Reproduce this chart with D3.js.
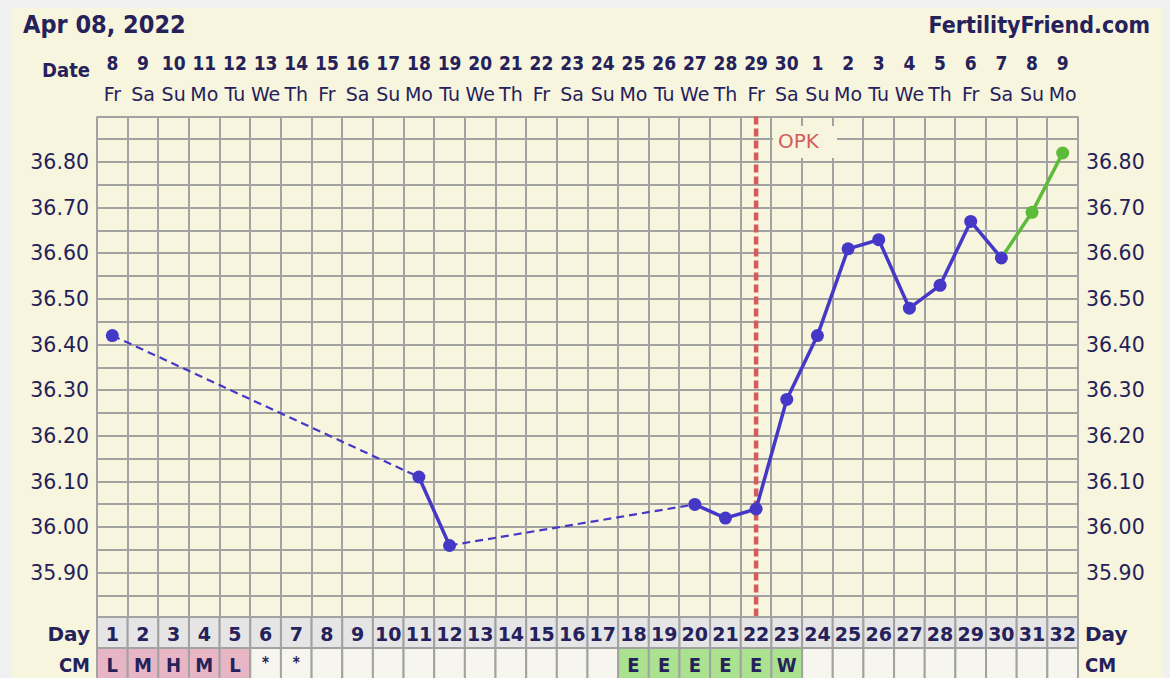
<!DOCTYPE html>
<html>
<head>
<meta charset="utf-8">
<script src="https://cdn.jsdelivr.net/npm/d3@7"></script>
<style>
  body { margin: 0; background: #f0f0f0; }
  svg { display: block; }
  text { font-family: "DejaVu Sans", Verdana, sans-serif; fill: #25215a; }
  .bold { font-weight: bold; }
  .narrow { font-family: "DejaVu Sans Condensed", "Open Sans", sans-serif; font-weight: bold; }
</style>
</head>
<body>
<svg width="1170" height="678"></svg>
<script>
// calendar dates and weekdays, one per cycle day
var dates = [8, 9, 10, 11, 12, 13, 14, 15, 16, 17, 18, 19, 20, 21, 22, 23, 24, 25, 26, 27, 28, 29, 30,
             1, 2, 3, 4, 5, 6, 7, 8, 9];
var weekdays = ["Fr","Sa","Su","Mo","Tu","We","Th","Fr","Sa","Su","Mo","Tu","We","Th","Fr","Sa",
                "Su","Mo","Tu","We","Th","Fr","Sa","Su","Mo","Tu","We","Th","Fr","Sa","Su","Mo"];
var cycleDays = [1, 2, 3, 4, 5, 6, 7, 8, 9, 10, 11, 12, 13, 14, 15, 16, 17, 18, 19, 20, 21, 22, 23, 24,
                 25, 26, 27, 28, 29, 30, 31, 32];

// temperature readings (days without a reading are skipped)
var tempDays   = [1, 11, 12, 20, 21, 22, 23, 24, 25, 26, 27, 28, 29, 30, 31, 32];
var tempValues = [36.42, 36.11, 35.96, 36.05, 36.02, 36.04, 36.28, 36.42, 36.61, 36.63, 36.48, 36.53,
                  36.67, 36.59, 36.69, 36.82];
var tempKind   = ["b","b","b","b","b","b","b","b","b","b","b","b","b","b","g","g"];

var yLabels = [36.8, 36.7, 36.6, 36.5, 36.4, 36.3, 36.2, 36.1, 36.0, 35.9];
var yDomain = [35.8, 36.9];

// CM row
var cmCodes = ["L","M","H","M","L","*","*","","","","","","","","","","","E","E","E","E","E","W",
               "","","","","","","","",""];
var cmKinds = {"L": "flow", "M": "flow", "H": "flow", "E": "fertile", "W": "fertile"};

var opkDay = 22;

const color = {
  "text": "#25215a",
  "grid": "#a2a2a2",
  "panel": "#f7f5de",
  "blue": "#4538c6",
  "green": "#5cbb38",
  "opk": "#d35c5c",
  "dayCell": "#e5e5e5",
  "flow": "#e8b5c5",
  "fertile": "#aae28f",
  "empty": "#f6f6ef"
};

var svg = d3.select("svg");

var plotLeft = 97, plotRight = 1078, plotTop = 116.5, plotBottom = 618.5;

var x = d3.scaleBand()
  .domain(cycleDays)
  .range([plotLeft, plotRight]);
var cx = d => x(d) + x.bandwidth() / 2;

var y = d3.scaleLinear()
  .domain(yDomain)
  .range([plotBottom, plotTop]);

// panel
svg.append("rect")
  .attr("x", 12).attr("y", 8)
  .attr("width", 1151).attr("height", 690)
  .attr("fill", color.panel);

// header
svg.append("text")
  .attr("class", "narrow")
  .attr("x", 23).attr("y", 33)
  .style("font-size", "25px")
  .text("Apr 08, 2022");
svg.append("text")
  .attr("class", "narrow")
  .attr("x", 1150).attr("y", 33)
  .attr("text-anchor", "end")
  .style("font-size", "23px")
  .text("FertilityFriend.com");

// date rows
svg.append("text")
  .attr("class", "narrow")
  .attr("x", 90).attr("y", 77)
  .attr("text-anchor", "end")
  .style("font-size", "20px")
  .text("Date");

svg.append("g").selectAll("text")
  .data(cycleDays)
  .join("text")
  .attr("class", "narrow")
  .attr("x", d => cx(d))
  .attr("y", 70)
  .attr("text-anchor", "middle")
  .style("font-size", "19px")
  .text((d, i) => dates[i]);

svg.append("g").selectAll("text")
  .data(cycleDays)
  .join("text")
  .attr("x", d => cx(d))
  .attr("y", 101)
  .attr("text-anchor", "middle")
  .style("font-size", "19px")
  .text((d, i) => weekdays[i]);

// grid
var grid = svg.append("g")
  .attr("stroke", color.grid)
  .attr("stroke-width", 2);

var hLines = d3.range(0, 23).map(i => yDomain[0] + i * 0.05);
grid.selectAll(".h")
  .data(hLines)
  .join("line")
  .attr("class", "h")
  .attr("x1", plotLeft).attr("x2", plotRight)
  .attr("y1", d => Math.round(y(d)))
  .attr("y2", d => Math.round(y(d)));

grid.selectAll(".v")
  .data(cycleDays.concat([33]))
  .join("line")
  .attr("class", "v")
  .attr("x1", d => Math.round(d === 33 ? plotRight : x(d)))
  .attr("x2", d => Math.round(d === 33 ? plotRight : x(d)))
  .attr("y1", plotTop).attr("y2", 700);

// y axes
var axisL = d3.axisLeft(y)
  .tickValues(yLabels)
  .tickFormat(d3.format(".2f"))
  .tickSize(0)
  .tickPadding(8);
var axisR = d3.axisRight(y)
  .tickValues(yLabels)
  .tickFormat(d3.format(".2f"))
  .tickSize(0)
  .tickPadding(8);

[[axisL, plotLeft], [axisR, plotRight]].forEach(function (a) {
  var g = svg.append("g")
    .attr("transform", "translate(" + a[1] + ",0)")
    .call(a[0]);
  g.select(".domain").remove();
  g.selectAll("text")
    .attr("fill", color.text)
    .style("font-size", "20.5px")
    .style("font-family", "DejaVu Sans, Verdana, sans-serif");
});

// OPK marker
svg.append("line")
  .attr("x1", cx(opkDay)).attr("x2", cx(opkDay))
  .attr("y1", plotTop).attr("y2", plotBottom)
  .attr("stroke", color.opk)
  .attr("stroke-width", 4.5)
  .attr("stroke-dasharray", "8,4");

svg.append("rect")
  .attr("x", 773).attr("y", 126)
  .attr("width", 64).attr("height", 32)
  .attr("fill", color.panel);
svg.append("text")
  .attr("x", 778).attr("y", 148)
  .style("font-size", "20px")
  .style("fill", color.opk)
  .text("OPK");

// temperature line
var pts = tempDays.map((d, i) => ({day: d, t: tempValues[i], kind: tempKind[i]}));
var segs = d3.pairs(pts);

svg.append("g").selectAll("line")
  .data(segs)
  .join("line")
  .attr("x1", s => cx(s[0].day)).attr("y1", s => y(s[0].t))
  .attr("x2", s => cx(s[1].day)).attr("y2", s => y(s[1].t))
  .attr("stroke", s => s[1].kind === "g" ? color.green : color.blue)
  .attr("stroke-width", s => s[1].day - s[0].day > 1 ? 2.2 : 3.5)
  .attr("stroke-dasharray", s => s[1].day - s[0].day > 1 ? "8,5" : null);

svg.append("g").selectAll("circle")
  .data(pts)
  .join("circle")
  .attr("cx", d => cx(d.day))
  .attr("cy", d => y(d.t))
  .attr("r", 6.5)
  .attr("fill", d => d.kind === "g" ? color.green : color.blue);

// Day row
var dayTop = 617, dayH = 31, cmTop = 648;
var cells = svg.append("g");
cells.selectAll(".day")
  .data(cycleDays)
  .join("rect")
  .attr("class", "day")
  .attr("x", d => x(d)).attr("y", dayTop)
  .attr("width", x.bandwidth()).attr("height", dayH)
  .attr("fill", color.dayCell)
  .attr("stroke", color.grid)
  .attr("stroke-width", 2);

cells.selectAll(".cm")
  .data(cycleDays)
  .join("rect")
  .attr("class", "cm")
  .attr("x", d => x(d)).attr("y", cmTop)
  .attr("width", x.bandwidth()).attr("height", 40)
  .attr("fill", (d, i) => color[cmKinds[cmCodes[i]] || "empty"])
  .attr("stroke", color.grid)
  .attr("stroke-width", 2);

cells.selectAll(".dayt")
  .data(cycleDays)
  .join("text")
  .attr("class", "dayt bold")
  .attr("x", d => cx(d)).attr("y", 640.5)
  .attr("text-anchor", "middle")
  .style("font-size", "19px")
  .text(d => d);

cells.selectAll(".cmt")
  .data(cycleDays)
  .join("text")
  .attr("class", "cmt narrow")
  .attr("x", d => cx(d))
  .attr("y", (d, i) => cmCodes[i] === "*" ? 668 : 672)
  .attr("text-anchor", "middle")
  .style("font-size", (d, i) => cmCodes[i] === "*" ? "15px" : "20px")
  .text((d, i) => cmCodes[i]);

[["Day", 640.5, "bold"], ["CM", 672, "narrow"]].forEach(function (r) {
  svg.append("text").attr("class", r[2])
    .attr("x", 90).attr("y", r[1]).attr("text-anchor", "end")
    .style("font-size", "20px").text(r[0]);
  svg.append("text").attr("class", r[2])
    .attr("x", 1085).attr("y", r[1])
    .style("font-size", "20px").text(r[0]);
});
</script>
</body>
</html>
